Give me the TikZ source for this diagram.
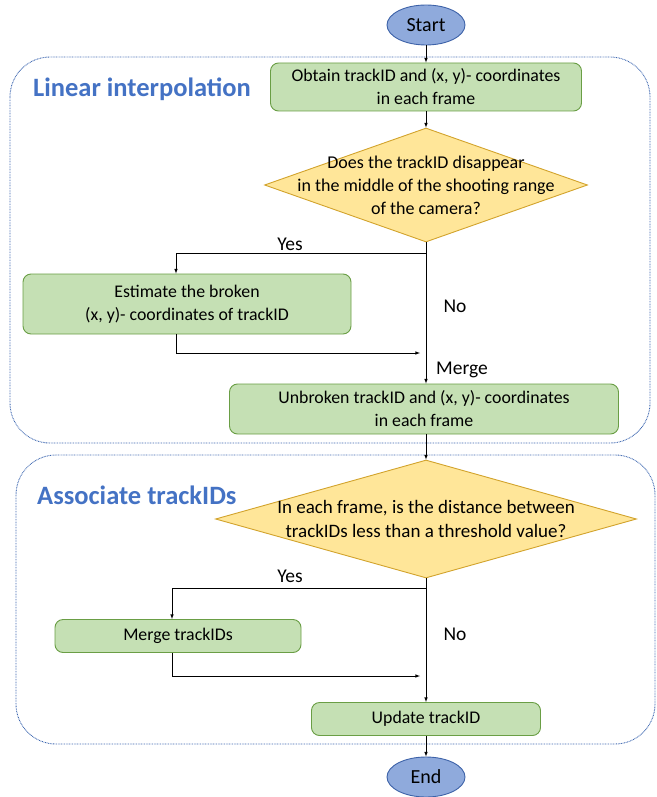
\documentclass[tikz,border=0pt]{standalone}
\usepackage{fontspec}
\setmainfont{Carlito}
\usetikzlibrary{shapes.geometric,arrows}
\definecolor{boxfill}{HTML}{C5E0B4}
\definecolor{boxline}{HTML}{6A9E45}
\definecolor{qfill}{HTML}{FFE699}
\definecolor{qline}{HTML}{D2A32C}
\definecolor{endfill}{HTML}{8FAADC}
\definecolor{endline}{HTML}{3D62A8}
\definecolor{grpline}{HTML}{4472C4}
\tikzset{
    stepbox/.style={draw=boxline, fill=boxfill, line width=0.9pt, rounded corners=8pt,
        align=center, font=\fontsize{17.8}{23}\selectfont, inner sep=0pt},
    decision/.style={draw=qline, fill=qfill, line width=0.9pt, diamond, inner sep=0pt},
    qtext/.style={align=center, font=\fontsize{18}{23}\selectfont},
    terminal/.style={draw=endline, fill=endfill, line width=0.9pt, ellipse,
        minimum width=78pt, minimum height=40pt, font=\fontsize{20}{22}\selectfont},
    group/.style={draw=grpline!90!black, line width=0.9pt, dash pattern=on 0.8pt off 0.8pt, rounded corners=40pt},
    grouptitle/.style={anchor=west, inner sep=0pt, text=grpline, font=\fontsize{26.5}{28}\selectfont\bfseries},
    branch/.style={font=\fontsize{19.5}{22}\selectfont},
    flow/.style={->, >=latex, line width=0.6pt}
}

\begin{document}
\begin{tikzpicture}[x=1pt, y=-1pt]
      \useasboundingbox (0,0) rectangle (656,797);
      % groups
      \draw[group] (10,57) rectangle (650,443);
      \draw[group] (16,455) rectangle (655,744);
      \node[grouptitle] (g1) at (33,89) {Linear interpolation};
      \node[grouptitle] (g2) at (37,495) {Associate trackIDs};
      % nodes
      \node[terminal] (start) at (426,25) {Start};
      \node[stepbox, minimum width=311pt, minimum height=48pt] (obtain) at (426,87)
          {Obtain trackID and (x, y)- coordinates\\in each frame};
      \node[decision, minimum width=323pt, minimum height=114pt] (q1) at (426,185) {};
      \node[qtext] (q1t) at (q1) {Does the trackID disappear\\in the middle of the shooting range\\of the camera?};
      \node[stepbox, minimum width=328pt, minimum height=60pt] (estimate) at (187,304)
          {Estimate the broken\\(x, y)- coordinates of trackID};
      \node[stepbox, minimum width=389pt, minimum height=50pt] (unbroken) at (424,409)
          {Unbroken trackID and (x, y)- coordinates\\in each frame};
      \node[decision, minimum width=421pt, minimum height=118pt] (q2) at (426,519) {};
      \node[qtext, font=\fontsize{19}{24}\selectfont] (q2t) at (q2) {In each frame, is the distance between\\trackIDs less than a threshold value?};
      \node[stepbox, minimum width=246pt, minimum height=33pt] (mergeid) at (178,636) {Merge trackIDs};
      \node[stepbox, minimum width=229pt, minimum height=33pt] (update) at (426,719) {Update trackID};
      \node[terminal] (end) at (426,777) {End};
      % turning points
      \coordinate (y1) at (176,253);
      \coordinate (m1) at (420,353);
      \coordinate (y2) at (172,588);
      \coordinate (m2) at (420,676);
      %edges
      \draw[flow] (start) -- (obtain);
      \draw[flow] (obtain) -- (q1.north);
      \draw[flow] (q1.south) |- (y1) -- (y1 |- estimate.north);
      \draw[flow] (estimate.south -| y1) |- (m1);
      \draw[flow] (q1.south) -- (q1.south |- unbroken.north);
      \draw[flow] (q1.south |- unbroken.south) -- (q2.north);
      \draw[flow] (q2.south) |- (y2) -- (y2 |- mergeid.north);
      \draw[flow] (mergeid.south -| y2) |- (m2);
      \draw[flow] (q2.south) -- (update.north);
      \draw[flow] (update) -- (end);
      % branch labels
      \node[branch] (yes1) at (290,244) {Yes};
      \node[branch] (no1) at (455,306) {No};
      \node[branch] (merge) at (462,370) {Merge};
      \node[branch] (yes2) at (290,576) {Yes};
      \node[branch] (no2) at (455,634) {No};
\end{tikzpicture}
\end{document}
